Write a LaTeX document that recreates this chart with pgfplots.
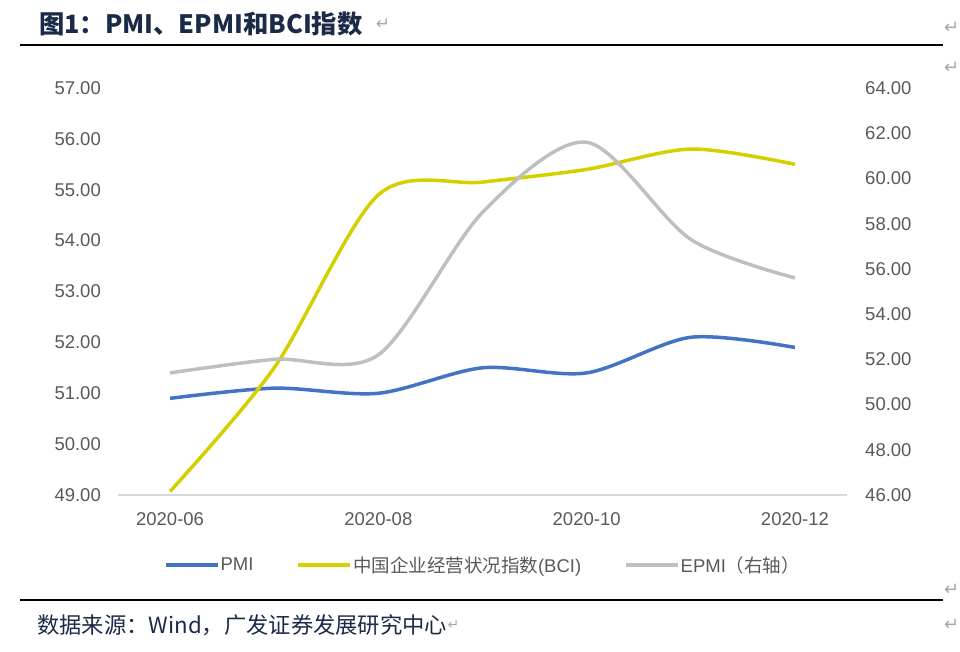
\documentclass[border=0pt]{standalone}
\usepackage{fontspec}
\setmainfont{Liberation Sans}
\newfontfamily\cjk{Noto Sans CJK SC}
\newfontfamily\sym{DejaVu Sans}
\usepackage{pgfplots}
\pgfplotsset{compat=1.18}
\definecolor{pmiblue}{HTML}{4472C4}
\definecolor{bciyellow}{HTML}{D5CF00}
\definecolor{epmigray}{HTML}{BFBFBF}
\definecolor{ticktext}{HTML}{595959}
\definecolor{navy}{HTML}{1B2A47}
\definecolor{markgray}{HTML}{A6A6A6}

\pgfplotsset{
  base/.style={
    at={(118pt,157pt)}, anchor=south west,
    scale only axis, width=729pt, height=407pt,
    xmin=-0.5, xmax=6.5,
    major tick length=0pt,
    y axis line style={draw=none},
    tick label style={font=\fontsize{18.5}{20}\selectfont, text=ticktext, inner sep=0pt},
    /pgf/number format/assume math mode=true,
    yticklabel={\pgfmathprintnumber[fixed,fixed zerofill,precision=2]{\tick}},
  },
}

\begin{document}
\begin{tikzpicture}
\useasboundingbox (0pt,0pt) rectangle (960pt,652pt);

% title and rules
\node[anchor=west, inner sep=0pt, text=navy, font=\cjk\bfseries\fontsize{25.3}{28}\selectfont] (t) at (39pt,628pt) {图1：PMI、EPMI和BCI指数};
\node[anchor=west, inner sep=0pt, text=markgray, font=\sym\fontsize{17}{18}\selectfont] at ([xshift=13pt]t.east) {↵};
\draw[line width=2pt] (20pt,607pt) -- (943pt,607pt);
\draw[line width=2pt] (20pt,52pt) -- (943pt,52pt);

% source
\node[anchor=west, inner sep=0pt, text=navy, font=\cjk\fontsize{22.3}{24}\selectfont] (s) at (37pt,27pt) {数据来源：Wind，广发证券发展研究中心};
\node[anchor=west, inner sep=0pt, text=markgray, font=\sym\fontsize{14}{16}\selectfont] at (s.east) {↵};

% paragraph marks on the right edge
\foreach \yy in {624,584,62,27}
  \node[anchor=west, inner sep=0pt, text=markgray, font=\sym\fontsize{18}{20}\selectfont] at (944pt,\yy pt) {↵};

\begin{axis}[
  base,
  ymin=49, ymax=57,
  ytick={49,50,...,57},
  xtick={0,2,4,6},
  xticklabels={2020-06,2020-08,2020-10,2020-12},
  xticklabel style={yshift=-17pt},
  yticklabel style={xshift=-17pt},
  axis x line*=bottom, axis y line*=left,
  x axis line style={draw=black!15, line width=1.5pt, -},
  legend style={at={(0.5,-0.172)}, anchor=center, draw=none, fill=none,
    legend columns=3, font=\fontsize{18.5}{20}\selectfont, text=ticktext,
    /tikz/every even column/.append style={column sep=42pt},
    nodes={inner sep=1pt}},
  legend image code/.code={\draw[#1] (0pt,0pt) -- (52pt,0pt);},
]
\addplot[pmiblue, line width=3.5pt, smooth] coordinates {
  (0,50.9) (1,51.1) (2,51.0) (3,51.5) (4,51.4) (5,52.1) (6,51.9)};
\addlegendentry{PMI}
\addplot[bciyellow, line width=3.5pt, smooth] coordinates {
  (0,49.07) (1,51.5) (2,54.9) (3,55.15) (4,55.4) (5,55.8) (6,55.5)};
\addlegendentry{{\cjk 中国企业经营状况指数}(BCI)}
\addlegendimage{epmigray, line width=3.5pt}
\addlegendentry{EPMI{\cjk （右轴）}}
\end{axis}

\begin{axis}[
  base,
  ymin=46, ymax=64,
  ytick={46,48,...,64},
  axis y line*=right,
  hide x axis,
  yticklabel style={xshift=18pt},
]
\addplot[epmigray, line width=3.5pt, smooth] coordinates {
  (0,51.4) (1,52.0) (2,52.2) (3,58.5) (4,61.6) (5,57.3) (6,55.6)};
\end{axis}
\end{tikzpicture}
\end{document}
